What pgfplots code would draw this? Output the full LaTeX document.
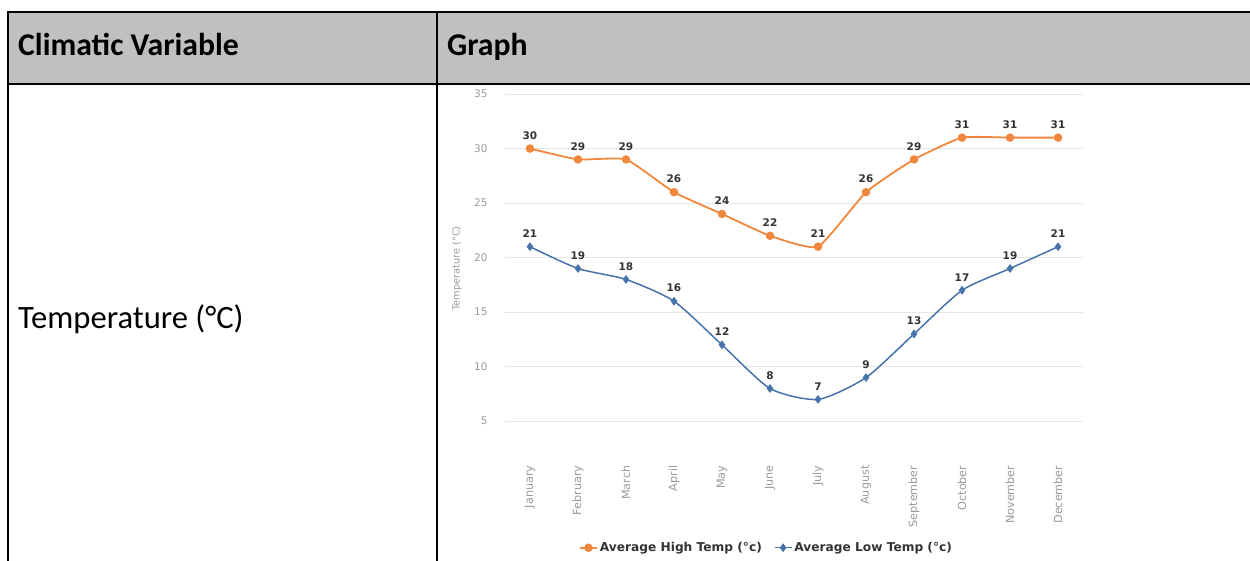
\documentclass[border=0pt]{standalone}
\usepackage{fontspec}
\setmainfont{Carlito}
\newfontfamily\chartfont{DejaVu Sans}
\usepackage{pgfplots}
\pgfplotsset{compat=1.18}
\definecolor{hdrgray}{HTML}{C0C0C0}
\definecolor{hiorange}{RGB}{240,135,60}
\definecolor{loblue}{RGB}{70,115,170}
\definecolor{gridc}{HTML}{E6E6E6}
\definecolor{ticklab}{HTML}{9A9A9A}
\definecolor{datalab}{HTML}{333333}
\begin{document}
\begin{tikzpicture}
\path[use as bounding box] (0pt,0pt) rectangle (1250pt,-560pt);
% table
\fill[hdrgray] (8pt,-12pt) rectangle (1250pt,-84pt);
\draw[line width=2.5pt] (8pt,-12pt) -- (1252pt,-12pt);
\draw[line width=2.5pt] (8pt,-84pt) -- (1252pt,-84pt);
\draw[line width=2.5pt] (8pt,-10.8pt) -- (8pt,-562pt);
\draw[line width=2.5pt] (437pt,-12pt) -- (437pt,-562pt);
\node[anchor=base west, inner sep=0pt, font=\fontsize{31.7}{38}\selectfont\bfseries] at (18pt,-55pt) {Climatic Variable};
\node[anchor=base west, inner sep=0pt, font=\fontsize{31.7}{38}\selectfont\bfseries] at (447pt,-55pt) {Graph};
\node[anchor=base west, inner sep=0pt, font=\fontsize{32.6}{39}\selectfont] at (18pt,-328pt) {Temperature (°C)};
% chart
\begin{axis}[
  at={(505pt,-443pt)}, anchor=south west,
  scale only axis, width=578pt, height=349pt,
  xmin=-0.52, xmax=11.52, ymin=3, ymax=35,
  axis line style={draw=none},
  major tick length=0pt,
  ytick={5,10,...,35},
  ymajorgrids, grid style={gridc, line width=1pt},
  xtick={0,...,11},
  xticklabels={January,February,March,April,May,June,July,August,September,October,November,December},
  /pgf/number format/assume math mode=true,
  yticklabel style={font=\chartfont\fontsize{10.5}{12}\selectfont, text=ticklab, xshift=-14pt},
  xticklabel style={font=\chartfont\fontsize{11.2}{13}\selectfont, text=ticklab, rotate=90, anchor=east, xshift=-19pt},
  ylabel={Temperature (°C)},
  every axis y label/.style={at={(rel axis cs:0,0.5)}, xshift=-48pt, rotate=90, anchor=center, font=\chartfont\fontsize{9.8}{11}\selectfont, text=ticklab},
  nodes near coords,
  every node near coord/.append style={font=\chartfont\bfseries\fontsize{10.5}{12}\selectfont, text=datalab, yshift=5pt},
  legend style={at={(0.4524,-0.30)}, anchor=center, draw=none, fill=none,
    font=\chartfont\bfseries\fontsize{12.2}{14}\selectfont, text=datalab},
  legend columns=2,
  legend cell align=left,
  /tikz/every even column/.append style={column sep=10pt},
]
\addplot[hiorange, line width=1.8pt, smooth, tension=0.28, mark=*, mark size=3.3pt, mark options={solid, fill=hiorange, draw=hiorange}]
  coordinates {(0,30) (1,29) (2,29) (3,26) (4,24) (5,22) (6,21) (7,26) (8,29) (9,31) (10,31) (11,31)};
\addlegendentry{Average High Temp (°c)}
\addplot[loblue, line width=1.5pt, smooth, tension=0.4, mark=diamond*, mark size=3.2pt, mark options={solid, fill=loblue, draw=loblue}]
  coordinates {(0,21) (1,19) (2,18) (3,16) (4,12) (5,8) (6,7) (7,9) (8,13) (9,17) (10,19) (11,21)};
\addlegendentry{Average Low Temp (°c)}
\end{axis}
\end{tikzpicture}
\end{document}
